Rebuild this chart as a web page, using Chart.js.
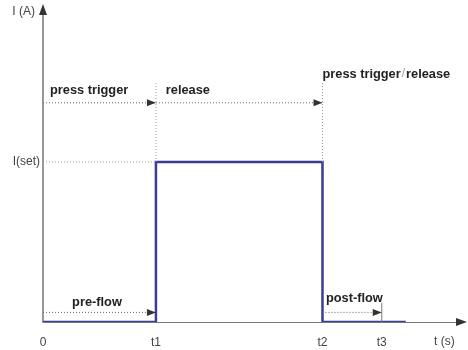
<!DOCTYPE html>
<html>
<head>
<meta charset="utf-8">
<script src="https://cdn.jsdelivr.net/npm/chart.js@4.4.1/dist/chart.umd.min.js"></script>
<style>
  html, body { margin: 0; padding: 0; background: #fff; }
  #wrap { width: 468px; height: 350px; }
</style>
</head>
<body>
<div id="wrap"><canvas id="myChart" width="468" height="350"></canvas></div>
<script>
// time axis ticks
const tickNames = ['0', 't1', 't2', 't3'];
const tickTimes = [0, 4, 9.9, 12];

// welding current pulse
const pulseTime = [0, 4, 4, 9.9, 9.9, 12.85];
const pulseCurrent = [0, 0, 1, 1, 0, 0];

const iSet = 1;          // I(set)
const triggerLevel = 1.37;
const flowLevel = 0.06;
const guideTop = 1.5;
const xMax = 14.7;
const yMax = 1.925;

// text notes: [text, x, y] in data units
const notes = [
  ['press trigger', 0.25, 1.45],
  ['release', 4.35, 1.45],
  ['press trigger/release', 9.9, 1.55],
  ['pre-flow', 1.03, 0.125],
  ['post-flow', 10.02, 0.15]
];

const pts = (xs, ys) => xs.map((x, i) => ({ x: x, y: ys[i] }));
const dotted = (data, color) => ({
  data: data, borderColor: color || '#9a9a9a', borderWidth: 1,
  borderDash: [1, 2], pointRadius: 0, fill: false
});

const datasets = [
  dotted(pts([0, tickTimes[1]], [iSet, iSet]), '#999'),
  dotted(pts([tickTimes[1], tickTimes[1]], [iSet, guideTop])),
  dotted(pts([tickTimes[2], tickTimes[2]], [iSet, guideTop])),
  dotted(pts([0, tickTimes[1]], [triggerLevel, triggerLevel]), '#666'),
  dotted(pts([tickTimes[1], tickTimes[2]], [triggerLevel, triggerLevel]), '#666'),
  dotted(pts([0, tickTimes[1]], [flowLevel, flowLevel]), '#666'),
  dotted(pts([tickTimes[2], tickTimes[3]], [flowLevel, flowLevel]), '#666'),
  { data: pts([tickTimes[3], tickTimes[3]], [0, 0.12]), borderColor: '#777', borderWidth: 1, pointRadius: 0 },
  { data: pts(pulseTime, pulseCurrent), borderColor: '#3b3b98', borderWidth: 2.5, pointRadius: 0, fill: false }
];

// arrow tips: [x, y]
const arrowTips = [
  [tickTimes[1], triggerLevel],
  [tickTimes[2], triggerLevel],
  [tickTimes[1], flowLevel],
  [tickTimes[3], flowLevel]
];

const bold = 'bold 12.8px "Liberation Sans", Arial, sans-serif';
const plain = '12px "Liberation Sans", Arial, sans-serif';

const drawings = {
  id: 'drawings',
  afterDatasetsDraw(chart) {
    const c = chart.ctx, x = chart.scales.x, y = chart.scales.y;
    const a = chart.chartArea;
    c.save();
    c.fillStyle = '#333';
    arrowTips.forEach(t => {
      const px = x.getPixelForValue(t[0]), py = y.getPixelForValue(t[1]);
      c.beginPath();
      c.moveTo(px, py);
      c.lineTo(px - 9, py - 3.5);
      c.lineTo(px - 9, py + 3.5);
      c.closePath();
      c.fill();
    });
    // axis arrowheads
    c.beginPath();
    c.moveTo(a.left, a.top - 10);
    c.lineTo(a.left - 4, a.top + 1);
    c.lineTo(a.left + 4, a.top + 1);
    c.closePath();
    c.fill();
    c.beginPath();
    c.moveTo(a.right + 9, a.bottom);
    c.lineTo(a.right - 2, a.bottom - 4);
    c.lineTo(a.right - 2, a.bottom + 4);
    c.closePath();
    c.fill();

    c.font = bold;
    c.textBaseline = 'middle';
    c.textAlign = 'left';
    notes.forEach(n => {
      const px = x.getPixelForValue(n[1]), py = y.getPixelForValue(n[2]);
      if (n[0].indexOf('/') > 0) {
        const parts = n[0].split('/');
        c.fillStyle = '#222';
        c.fillText(parts[0], px, py);
        let w = c.measureText(parts[0]).width + 1;
        c.font = plain;
        c.fillStyle = '#999';
        c.fillText('/', px + w, py);
        w += c.measureText('/').width + 1;
        c.font = bold;
        c.fillStyle = '#222';
        c.fillText(parts[1], px + w, py);
      } else {
        c.fillStyle = '#222';
        c.fillText(n[0], px, py);
      }
    });

    c.font = plain;
    c.fillStyle = '#444';
    c.textAlign = 'right';
    c.fillText('I (A)', a.left - 8, 12);
    c.textAlign = 'left';
    c.fillText('t (s)', 434, 342);
    c.restore();
  }
};

const ctx = document.getElementById('myChart').getContext('2d');
new Chart(ctx, {
  type: 'line',
  data: { datasets: datasets },
  options: {
    responsive: false,
    animation: false,
    layout: { padding: { top: 14, right: 10, left: 0, bottom: 0 } },
    plugins: { legend: { display: false }, tooltip: { enabled: false } },
    scales: {
      x: {
        type: 'linear', min: 0, max: xMax,
        grid: { display: false, drawTicks: false },
        border: { display: true, color: '#777', width: 1 },
        afterBuildTicks: s => { s.ticks = tickTimes.map(v => ({ value: v })); },
        afterFit: s => { s.height = 28; },
        ticks: {
          padding: 13, autoSkip: false, maxRotation: 0, color: '#444',
          font: { size: 12, family: '"Liberation Sans", Arial, sans-serif' },
          callback: v => tickNames[tickTimes.indexOf(v)]
        }
      },
      y: {
        type: 'linear', min: 0, max: yMax,
        grid: { display: false, drawTicks: false },
        border: { display: true, color: '#999', width: 2 },
        afterBuildTicks: s => { s.ticks = [{ value: iSet }]; },
        afterFit: s => { s.width = 43; },
        ticks: {
          padding: 3, color: '#444',
          font: { size: 12, family: '"Liberation Sans", Arial, sans-serif' },
          callback: () => 'I(set)'
        }
      }
    }
  },
  plugins: [drawings]
});
</script>
</body>
</html>
